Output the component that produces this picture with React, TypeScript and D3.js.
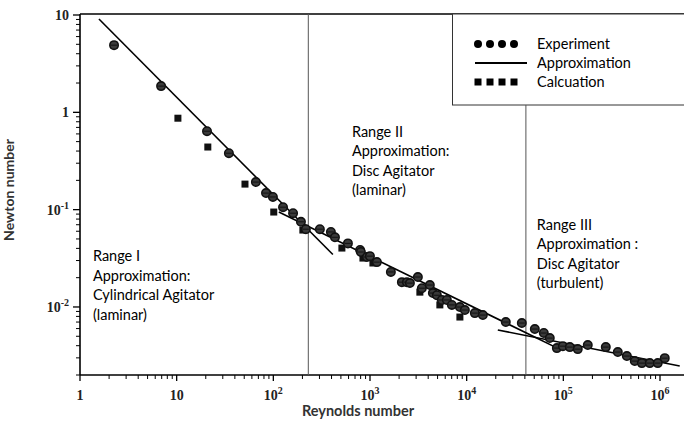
import React from "react";
import * as d3 from "d3";

// Experiment data (Reynolds number, Newton number)
const expRe = [2.25, 6.9, 20.6, 34.7, 66, 84, 99, 126, 160, 193, 217, 303, 394, 434, 591, 790, 805, 929, 998, 1178, 1644, 2137, 2408, 2587, 3128, 3440, 4160, 4470, 4920, 5540, 6240, 7030, 8510, 9580, 12150, 14700, 25400, 37200, 50700, 62800, 72400, 85700, 98900, 116700, 141000, 179000, 275000, 366000, 454000, 548000, 649000, 784000, 948000, 1120000];
const expNe = [4.9, 1.86, 0.64, 0.38, 0.192, 0.148, 0.135, 0.106, 0.092, 0.075, 0.063, 0.063, 0.059, 0.052, 0.045, 0.0385, 0.0367, 0.0326, 0.0333, 0.0289, 0.0229, 0.018, 0.018, 0.0176, 0.0203, 0.0156, 0.0168, 0.0139, 0.0132, 0.0118, 0.0118, 0.0105, 0.00998, 0.0093, 0.00865, 0.00826, 0.007, 0.00684, 0.00593, 0.0054, 0.00479, 0.00378, 0.00396, 0.00387, 0.00369, 0.00406, 0.00387, 0.00344, 0.00313, 0.00278, 0.00265, 0.00265, 0.00265, 0.00298];

// Calculation data
const calcRe = [2.25, 10.3, 21, 50.9, 101, 202, 512, 845, 1072, 3280, 5280, 8510];
const calcNe = [4.9, 0.87, 0.44, 0.183, 0.0945, 0.0617, 0.0403, 0.0318, 0.0283, 0.0142, 0.0105, 0.00788];

// Approximation segments (endpoints)
const approxRe = [[1.57, 413], [114, 85700], [21000, 1600000]];
const approxNe = [[9.1, 0.0346], [0.0944, 0.0038], [0.0058, 0.00247]];

// Range boundaries
const boundaryRe = [230, 41000];

const xTickExp = [0, 1, 2, 3, 4, 5, 6];
const yTickExp = [1, 0, -1, -2];

const rangeLabels = [
  { lines: ["Range I", "Approximation:", "Cylindrical Agitator", "(laminar)"], re: 1.36, ne: 0.0295 },
  { lines: ["Range II", "Approximation:", "Disc Agitator", "(laminar)"], re: 650, ne: 0.56 },
  { lines: ["Range III", "Approximation :", "Disc Agitator", "(turbulent)"], re: 53200, ne: 0.0622 },
];

const legendItems = ["Experiment", "Approximation", "Calcuation"];

const W = 684;
const H = 421;
const LEFT = 80;
const TOP = 14;
const BOTTOM = 375;

const sansFont = "Lato, 'Open Sans', sans-serif";
const serifFont = "'Liberation Serif', 'DejaVu Serif', serif";

function TickLabel({ exp }: { exp: number }) {
  if (exp === 0) return <>1</>;
  if (exp === 1) return <>10</>;
  return (
    <>
      10<tspan dy={-6} fontSize={10}>{exp}</tspan>
    </>
  );
}

export default function App() {
  const x = d3.scaleLog().domain([1, 1e6]).range([LEFT, 660]);
  const y = d3.scaleLog().domain([0.002, 10]).range([BOTTOM, 15]);

  const xMinor: number[] = [];
  for (let e = 0; e <= 6; e++) for (let k = 2; k <= 9; k++) {
    const v = k * Math.pow(10, e);
    if (x(v) < W) xMinor.push(v);
  }
  const yMinor: number[] = [];
  for (let e = -3; e <= 0; e++) for (let k = 2; k <= 9; k++) {
    const v = k * Math.pow(10, e);
    if (v >= 0.002 && v <= 10) yMinor.push(v);
  }

  const line = d3.line<[number, number]>().x((d) => x(d[0])).y((d) => y(d[1]));

  return (
    <svg width={W} height={H} style={{ position: "absolute", left: 0, top: 0, background: "#fff" }}>
      <rect width={W} height={H} fill="#fff" />
      {/* frame */}
      <line x1={LEFT} x2={W} y1={TOP} y2={TOP} stroke="#000" strokeWidth={1.6} />
      <line x1={LEFT} x2={LEFT} y1={TOP} y2={BOTTOM} stroke="#000" strokeWidth={1.6} />
      <line x1={LEFT} x2={W} y1={BOTTOM} y2={BOTTOM} stroke="#000" strokeWidth={1.6} />

      {/* legend box */}
      <rect x={452.5} y={TOP} width={W} height={91} fill="#fff" stroke="#333" strokeWidth={1} />

      {/* boundaries */}
      <line x1={x(boundaryRe[0])} x2={x(boundaryRe[0])} y1={TOP} y2={BOTTOM} stroke="#555" strokeWidth={1} />
      <line x1={x(boundaryRe[1])} x2={x(boundaryRe[1])} y1={105} y2={BOTTOM} stroke="#555" strokeWidth={1} />

      {/* x ticks */}
      {xTickExp.map((e) => {
        const px = x(Math.pow(10, e));
        return (
          <g key={"xt" + e}>
            <line x1={px} x2={px} y1={BOTTOM} y2={BOTTOM + 6} stroke="#000" strokeWidth={1.3} />
            <text x={px} y={400} textAnchor="middle" fontFamily={serifFont} fontSize={14} fontWeight="bold" fill="#222">
              <TickLabel exp={e} />
            </text>
          </g>
        );
      })}
      {xMinor.map((v, i) => (
        <line key={"xm" + i} x1={x(v)} x2={x(v)} y1={BOTTOM} y2={BOTTOM + 4} stroke="#000" strokeWidth={1} />
      ))}

      {/* y ticks */}
      {yTickExp.map((e) => {
        const py = y(Math.pow(10, e));
        return (
          <g key={"yt" + e}>
            <line x1={LEFT - 7} x2={LEFT} y1={py} y2={py} stroke="#000" strokeWidth={1.3} />
            <text x={69} y={py + 5} textAnchor="end" fontFamily={serifFont} fontSize={14} fontWeight="bold" fill="#222">
              {e === 1 ? "10" : e === 0 ? "1" : (
                <>
                  10<tspan dy={-6} fontSize={10}>{e}</tspan>
                </>
              )}
            </text>
          </g>
        );
      })}
      {yMinor.map((v, i) => (
        <line key={"ym" + i} x1={LEFT - 4} x2={LEFT} y1={y(v)} y2={y(v)} stroke="#000" strokeWidth={1} />
      ))}

      {/* axis titles */}
      <text x={358} y={416} textAnchor="middle" fontFamily={sansFont} fontSize={14.5} fontWeight="bold" fill="#333">
        Reynolds number
      </text>
      <text transform="translate(14,190) rotate(-90)" textAnchor="middle" fontFamily={sansFont} fontSize={14} fontWeight="bold" fill="#333">
        Newton number
      </text>

      {/* approximation lines */}
      {approxRe.map((r, i) => (
        <path key={"ap" + i} d={line([[r[0], approxNe[i][0]], [r[1], approxNe[i][1]]]) || ""} stroke="#000" strokeWidth={1.6} fill="none" />
      ))}

      {/* calculation squares */}
      {calcRe.map((r, i) => (
        <rect key={"c" + i} x={x(r) - 3.5} y={y(calcNe[i]) - 3.5} width={7} height={7} fill="#111" />
      ))}

      {/* experiment circles */}
      {expRe.map((r, i) => (
        <g key={"e" + i}>
          <circle cx={x(r)} cy={y(expNe[i])} r={4.2} fill="#3a3a3a" stroke="#111" strokeWidth={1.6} />
          <line x1={x(r) - 3} x2={x(r) + 3} y1={y(expNe[i])} y2={y(expNe[i])} stroke="#111" strokeWidth={1} />
        </g>
      ))}

      {/* range labels */}
      {rangeLabels.map((lab, i) => (
        <text key={"rl" + i} x={x(lab.re)} y={y(lab.ne)} fontFamily={sansFont} fontSize={14.5} fill="#000">
          {lab.lines.map((l, j) => (
            <tspan key={j} x={x(lab.re)} dy={j === 0 ? 0 : 19.5}>{l}</tspan>
          ))}
        </text>
      ))}

      {/* legend */}
      {[0, 1, 2, 3].map((k) => (
        <circle key={"lc" + k} cx={478 + k * 12} cy={44} r={4} fill="#000" />
      ))}
      <line x1={475} x2={527} y1={63} y2={63} stroke="#000" strokeWidth={2} />
      {[0, 1, 2, 3].map((k) => (
        <rect key={"ls" + k} x={474.5 + k * 12} y={78.5} width={7} height={7} fill="#000" />
      ))}
      {legendItems.map((t, i) => (
        <text key={"lt" + i} x={537} y={49 + i * 19} fontFamily={sansFont} fontSize={14.5} fill="#000">
          {t}
        </text>
      ))}
    </svg>
  );
}
